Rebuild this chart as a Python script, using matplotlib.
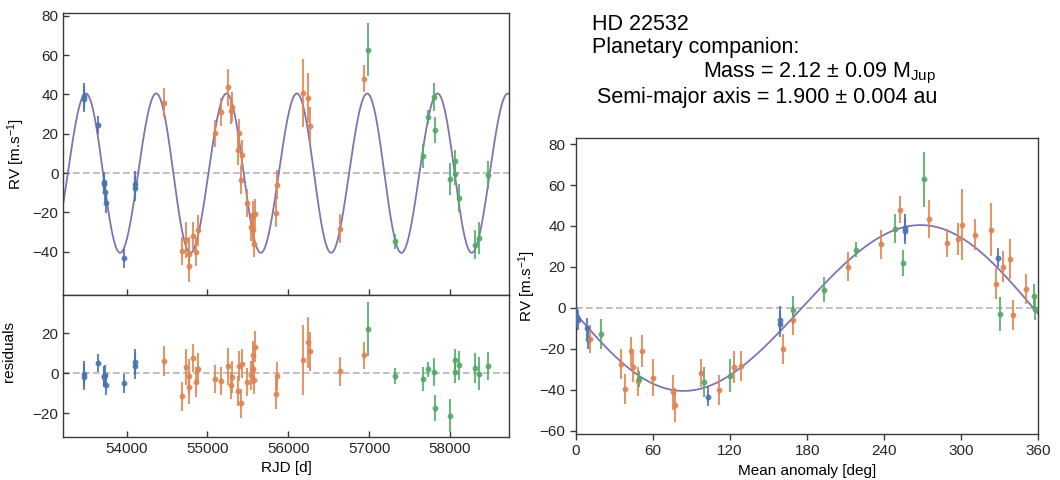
import numpy as np
import matplotlib.pyplot as plt

plt.rcParams['font.family'] = ['Liberation Sans', 'DejaVu Sans']
plt.rcParams['mathtext.fontset'] = 'custom'
plt.rcParams['mathtext.rm'] = 'Liberation Sans'
plt.rcParams['mathtext.it'] = 'Liberation Sans:italic'
plt.rcParams['mathtext.bf'] = 'Liberation Sans:bold'

# fitted Keplerian (periastron time, period, semi-amplitude, e, omega)
T0 = 52847.0
P = 870.0
K = 40.5
ecc = 0.02
omega = 94.0

# instrument 1 (blue)
t_1 = [53467, 53467, 53641, 53718, 53720, 53738, 53739, 53965, 54101, 54101]
rv_1 = [39.2, 37.6, 24.5, -4.6, -5.8, -9.8, -15.2, -43.4, -5.7, -7.8]
err_1 = [6.5, 6.5, 4.5, 5.0, 5.0, 5.0, 5.0, 4.7, 6.5, 6.5]

# instrument 2 (orange)
t_2 = [54468, 54680, 54731, 54769, 54773, 54823, 54857, 54885, 55099, 55161,
       55252, 55286, 55305, 55377, 55391, 55409, 55433, 55484, 55542, 55560,
       55564, 55573, 55582, 55847, 55866, 56183, 56238, 56274, 56637, 56937]
rv_2 = [35.8, -39.7, -34.0, -41.3, -47.3, -31.8, -40.2, -29.1, 20.2, 31.0,
        43.6, 31.7, 33.5, 11.8, 20.2, -3.4, 9.3, -15.2, -27.4, -21.2,
        -29.1, -35.9, -20.9, -20.1, -5.9, 40.7, 38.2, 24.0, -28.2, 48.0]
err_2 = [7.5, 7.3, 9.0, 8.6, 8.2, 7.0, 7.3, 7.8, 7.0, 7.0,
         9.3, 6.9, 7.8, 7.5, 7.5, 7.3, 7.3, 7.0, 7.3, 7.0,
         7.3, 7.0, 7.8, 7.3, 7.3, 17.5, 12.9, 9.8, 7.3, 6.7]

# instrument 3 (green)
t_3 = [56981, 57316, 57664, 57724, 57797, 57813, 57995, 58059, 58061, 58114,
       58307, 58357, 58476]
rv_3 = [62.7, -34.8, 8.8, 28.4, 38.7, 22.0, -2.9, 6.0, -0.5, -12.7,
        -36.4, -33.1, -1.0]
err_3 = [13.5, 4.0, 6.1, 3.7, 7.0, 6.5, 8.2, 5.6, 5.6, 7.3,
         7.3, 8.2, 7.0]

colors = ['#4C72B0', '#DD8452', '#55A868']
model_color = '#8172B3'
spine_color = '#3a3a3a'


def keplerian(t):
    M = 2 * np.pi * (np.asarray(t, float) - T0) / P
    E = M.copy()
    for _ in range(30):
        E = E - (E - ecc * np.sin(E) - M) / (1 - ecc * np.cos(E))
    nu = 2 * np.arctan2(np.sqrt(1 + ecc) * np.sin(E / 2),
                        np.sqrt(1 - ecc) * np.cos(E / 2))
    w = np.radians(omega)
    return K * (np.cos(nu + w) + ecc * np.cos(w))


def mean_anomaly(t):
    return np.mod((np.asarray(t, float) - T0) / P * 360.0, 360.0)


def style(ax, direction):
    for s in ax.spines.values():
        s.set_color(spine_color)
        s.set_linewidth(1.0)
    ax.tick_params(direction=direction, length=4, width=1.0, color=spine_color,
                   labelsize=11, labelcolor='#262626')


fig = plt.figure(figsize=(10.6, 4.8), dpi=100)
ax1 = fig.add_axes([0.0597, 0.3854, 0.4208, 0.5869])
ax2 = fig.add_axes([0.0597, 0.0902, 0.4208, 0.2952], sharex=ax1)
ax3 = fig.add_axes([0.5434, 0.0958, 0.4361, 0.616])

data = [(t_1, rv_1, err_1), (t_2, rv_2, err_2), (t_3, rv_3, err_3)]
eb = dict(fmt='o', ms=3.2, elinewidth=1.5, capsize=0, alpha=0.85, zorder=3)

# time series + model
xlim = (53216, 58734)
tt = np.linspace(xlim[0], xlim[1], 4000)
ax1.axhline(0, color='#b5b5b5', lw=1.2, ls=(0, (4, 2)), zorder=1)
ax1.plot(tt, keplerian(tt), color=model_color, lw=1.3, zorder=2)
for (t, rv, err), c in zip(data, colors):
    ax1.errorbar(t, rv, yerr=err, color=c, mec=c, **eb)
ax1.set_xlim(*xlim)
ax1.set_ylim(-62, 81.2)
ax1.set_yticks([-40, -20, 0, 20, 40, 60, 80])
ax1.set_ylabel('RV [m.s$^{-1}$]', fontsize=11)
ax1.tick_params(labelbottom=False)
style(ax1, 'in')

# residuals
ax2.axhline(0, color='#b5b5b5', lw=1.2, ls=(0, (4, 2)), zorder=1)
for (t, rv, err), c in zip(data, colors):
    res = np.array(rv) - keplerian(t)
    ax2.errorbar(t, res, yerr=err, color=c, mec=c, **eb)
ax2.set_ylim(-31.7, 39.2)
ax2.set_yticks([-20, 0, 20])
ax2.set_xticks([54000, 55000, 56000, 57000, 58000])
ax2.set_ylabel('residuals', fontsize=11)
ax2.yaxis.set_label_coords(-0.105, 0.6)
ax2.set_xlabel('RJD [d]', fontsize=11)
style(ax2, 'in')

# phase folded
mm = np.linspace(0, 360, 1000)
ax3.axhline(0, color='#b5b5b5', lw=1.2, ls=(0, (4, 2)), zorder=1)
ax3.plot(mm, keplerian(T0 + mm / 360.0 * P), color=model_color, lw=1.3, zorder=2)
for (t, rv, err), c in zip(data, colors):
    ax3.errorbar(mean_anomaly(t), rv, yerr=err, color=c, mec=c, **eb)
ax3.set_xlim(0, 360)
ax3.set_ylim(-61.6, 82.8)
ax3.set_xticks(range(0, 361, 60))
ax3.set_yticks(range(-60, 81, 20))
ax3.set_xlabel('Mean anomaly [deg]', fontsize=11)
ax3.set_ylabel('RV [m.s$^{-1}$]', fontsize=11, labelpad=1)
style(ax3, 'out')

# companion summary
fs = 15.5
fig.text(591.7 / 1060, 1 - 25 / 480, 'HD 22532', fontsize=fs, va='center', ha='left')
fig.text(591.7 / 1060, 1 - 48 / 480, 'Planetary companion:', fontsize=fs, va='center', ha='left')
fig.text(702.7 / 1060, 1 - 73 / 480, 'Mass = 2.12 ± 0.09 M$_{\\mathrm{Jup}}$', fontsize=fs,
         va='center', ha='left')
fig.text(597.3 / 1060, 1 - 97 / 480, 'Semi-major axis = 1.900 ± 0.004 au', fontsize=fs,
         va='center', ha='left')

fig.savefig('out.png', dpi=100)
